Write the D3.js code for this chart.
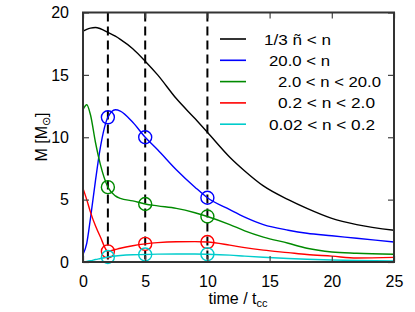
<!DOCTYPE html>
<html>
<head>
<meta charset="utf-8">
<script src="https://cdn.jsdelivr.net/npm/d3@7"></script>
<style>
body { margin: 0; background: #fff; }
text { font-family: "Liberation Sans", Arial, sans-serif; fill: #000; }
</style>
</head>
<body>
<svg id="chart" width="415" height="312"></svg>
<script>
// values
var times  = [0, 0.3, 0.6, 1, 1.4, 2, 2.6, 3, 4, 5, 6, 7.5, 9, 10, 11.8, 13, 14.5, 16.5, 18, 20, 22, 25];
var mTotal = [18.5, 18.65, 18.75, 18.8, 18.7, 18.4, 18.1, 17.85, 17.1, 16.1, 15.0, 13.1, 11.5, 10.4, 8.4, 7.3, 6.1, 5.0, 4.3, 3.5, 3.0, 2.55];
var mHigh  = [0.6, 1.5, 3.5, 6.5, 9.2, 11.6, 12.2, 12.1, 11.2, 10.0, 9.0, 7.4, 6.0, 5.15, 4.2, 3.6, 3.0, 2.55, 2.3, 2.1, 1.9, 1.6];
var mMid   = [12.2, 12.6, 11.8, 9.6, 7.8, 6.0, 5.3, 5.1, 4.9, 4.65, 4.5, 4.3, 3.95, 3.65, 3.0, 2.5, 2.0, 1.5, 1.1, 0.8, 0.7, 0.62];
var mLow   = [5.9, 5.0, 4.0, 2.9, 2.0, 0.85, 1.0, 1.1, 1.3, 1.45, 1.55, 1.62, 1.63, 1.6, 1.35, 1.15, 0.95, 0.75, 0.6, 0.47, 0.32, 0.37];
var mVLow  = [0.02, 0.05, 0.1, 0.2, 0.28, 0.4, 0.48, 0.52, 0.58, 0.6, 0.63, 0.64, 0.64, 0.62, 0.55, 0.47, 0.38, 0.28, 0.22, 0.16, 0.12, 0.08];
var labels = ['1/3 ñ < n', '20.0 < n', '2.0 < n < 20.0', '0.2 < n < 2.0', '0.02 < n < 0.2'];
var colors = ['#000000', '#0000ff', '#008a00', '#ff0000', '#00cccc'];
var markTimes = [2, 5, 10];
var xTicks = [0, 5, 10, 15, 20, 25];
var yTicks = [0, 5, 10, 15, 20];

var series = [mTotal, mHigh, mMid, mLow, mVLow];

var svg = d3.select('#chart');
var margin = {left: 83, right: 21, top: 12.5, bottom: 50};
var width = +svg.attr('width'), height = +svg.attr('height');
var innerwidth = width - margin.left - margin.right;
var innerheight = height - margin.top - margin.bottom;

var xscale = d3.scaleLinear().domain([0, 25]).range([0, innerwidth]);
var yscale = d3.scaleLinear().domain([0, 20]).range([innerheight, 0]);

var g = svg.append('g').attr('transform', `translate(${margin.left},${margin.top})`);

// dashed markers of the snapshot times
g.selectAll('.vline').data(markTimes).enter()
  .append('line')
  .attr('x1', d => xscale(d)).attr('x2', d => xscale(d))
  .attr('y1', 0).attr('y2', innerheight)
  .attr('stroke', '#000').attr('stroke-width', 2)
  .attr('stroke-dasharray', '9,5');

var line = d3.line()
  .x((d, i) => xscale(times[i]))
  .y(d => yscale(d))
  .curve(d3.curveMonotoneX);

series.forEach(function(s, k){
  g.append('path').datum(s)
    .attr('d', line)
    .attr('fill', 'none')
    .attr('stroke', colors[k])
    .attr('stroke-width', 1.4);
  if (k > 0) {
    g.selectAll('.c' + k).data(markTimes).enter()
      .append('circle')
      .attr('cx', d => xscale(d))
      .attr('cy', d => yscale(s[times.indexOf(d)]))
      .attr('r', 6.5)
      .attr('fill', 'none')
      .attr('stroke', colors[k])
      .attr('stroke-width', 1.4);
  }
});

// axes, ticks inward on all four sides
var axiscontainer = g.append('g');
var xb = axiscontainer.append('g').attr('transform', `translate(0,${innerheight})`)
  .call(d3.axisBottom(xscale).tickValues(xTicks).tickSize(-6).tickPadding(14));
axiscontainer.append('g')
  .call(d3.axisTop(xscale).tickValues(xTicks).tickSize(-6).tickFormat(''));
axiscontainer.append('g')
  .call(d3.axisLeft(yscale).tickValues(yTicks).tickSize(-6).tickPadding(14));
axiscontainer.append('g').attr('transform', `translate(${innerwidth},0)`)
  .call(d3.axisRight(yscale).tickValues(yTicks).tickSize(-6).tickFormat(''));
axiscontainer.selectAll('.domain').remove();
axiscontainer.selectAll('.tick line').attr('stroke', '#444').attr('stroke-width', 1.2);
axiscontainer.selectAll('.tick text').style('font-size', '16px').attr('fill', '#000');
xb.selectAll('.tick text').attr('dy', '0.71em');

g.append('rect')
  .attr('width', innerwidth).attr('height', innerheight)
  .attr('fill', 'none').attr('stroke', '#333').attr('stroke-width', 2);

// legend
var legX = [264, 269, 278, 278, 269];
var legW = [67, 61, 103, 97, 106];
var legend = svg.append('g');
labels.forEach(function(lab, i){
  var y = 39 + i * 21.3;
  legend.append('line')
    .attr('x1', 220).attr('x2', 246).attr('y1', y).attr('y2', y)
    .attr('stroke', colors[i]).attr('stroke-width', 1.6);
  legend.append('text')
    .attr('x', legX[i]).attr('y', y + 5.5)
    .attr('textLength', legW[i]).attr('lengthAdjust', 'spacingAndGlyphs')
    .style('font-size', '15px')
    .text(lab);
});

// axis labels
var xl = svg.append('text')
  .attr('x', 238).attr('y', 304)
  .attr('text-anchor', 'middle')
  .style('font-size', '16px');
xl.append('tspan').text('time / t');
xl.append('tspan').attr('dy', 3).style('font-size', '11px').text('cc');

var yl = svg.append('text')
  .attr('transform', 'translate(47,137) rotate(-90)')
  .attr('text-anchor', 'middle')
  .style('font-size', '16px');
yl.append('tspan').text('M [M');
yl.append('tspan').attr('dy', 3).style('font-size', '11px').text('⊙');
yl.append('tspan').attr('dy', -3).text(']');
</script>
</body>
</html>
